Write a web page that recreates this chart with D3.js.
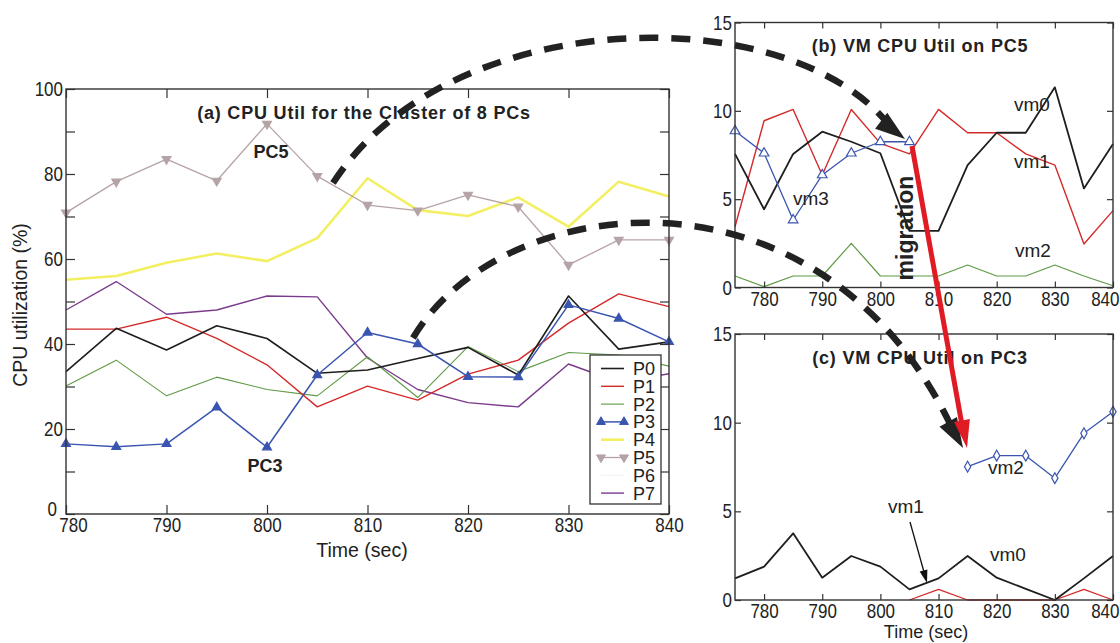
<!DOCTYPE html>
<html><head><meta charset="utf-8">
<script src="https://cdn.jsdelivr.net/npm/d3@7"></script>
<style>body{margin:0;background:#fff;} svg{display:block;font-family:Arial,"Liberation Sans",sans-serif;}</style>
</head><body><svg id="chart" width="1120" height="643"></svg>
<script>
// ---------- data ----------
const timeA = [780,785,790,795,800,805,810,815,820,825,830,835,840];
const seriesNames = ["P0","P1","P2","P3","P4","P5","P6","P7"];
const P0 = [33.5,43.7,38.6,44.3,41.3,33.1,33.9,36.6,39.2,32.7,51.3,38.8,40.5];
const P1 = [43.5,43.5,46.3,41.3,35.1,25.2,30.1,26.8,32.9,36.2,44.9,51.8,48.8];
const P2 = [30.1,36.2,27.8,32.2,29.3,27.8,37.0,27.4,39.4,33.5,38.0,37.4,34.8];
const P3 = [16.5,15.8,16.5,25.1,15.7,32.7,42.7,40.0,32.3,32.2,49.2,46.0,40.5];
const P4 = [55.1,56.0,59.1,61.3,59.5,64.9,79.0,71.5,70.1,74.5,67.6,78.2,74.7];
const P5 = [70.9,78.2,83.5,78.4,91.8,79.5,72.7,71.4,75.1,72.3,58.6,64.5,64.5];
const P6 = [0,0,0,0,0,0,0,0,0,0,0,0,0];
const P7 = [48.0,54.7,47.0,48.0,51.3,51.1,36.7,29.3,26.2,25.2,35.3,31.0,33.0];
const ticksAx = [780,790,800,810,820,830,840];
const ticksAy = [0,10,20,30,40,50,60,70,80,90,100];

const timeB = [775,780,785,790,795,800,805,810,815,820,825,830,835,840];
const bVm0 = [7.56,4.43,7.56,8.82,8.25,7.6,3.2,3.2,6.93,8.76,8.76,11.33,5.61,8.12];
const bVm1 = [3.44,9.44,10.08,6.37,10.08,8.16,7.56,10.08,8.76,8.76,7.56,6.93,2.46,4.35];
const bVm2 = [0.65,0.05,0.65,0.65,2.5,0.65,0.65,0.65,1.27,0.65,0.65,1.27,0.65,0.1];
const timeBvm3 = [775,780,785,790,795,800,805];
const bVm3 = [8.86,7.6,3.82,6.37,7.6,8.25,8.25];

const timeC = [775,780,785,790,795,800,805,810,815,820,825,830,835,840];
const cVm0 = [1.22,1.88,3.76,1.26,2.48,1.88,0.6,1.22,2.48,1.26,0.63,0,1.22,2.48];
const timeCvm1 = [805,810,815,820,825,830,835,840];
const cVm1 = [0,0.6,0,0,0,0,0.6,0];
const timeCvm2 = [815,820,825,830,835,840];
const cVm2 = [7.52,8.14,8.14,6.87,9.4,10.62];
const ticksBx = [780,790,800,810,820,830,840];
const ticksBy = [0,5,10,15];

// ---------- setup ----------
const svg = d3.select("#chart");
const FRAME = "#333";
const TXT = "#222";
const SY = 1.2; // vertical stretch of tick labels

function frame(g, x0, x1, y0, y1) {
  g.append("rect").attr("x", x0).attr("y", y0).attr("width", x1 - x0).attr("height", y1 - y0)
    .attr("fill", "none").attr("stroke", FRAME).attr("stroke-width", 1.4);
}
function styleAxis(sel, orient) {
  sel.select(".domain").remove();
  sel.selectAll("line").attr("stroke", FRAME).attr("stroke-width", 1.2);
  const t = sel.selectAll("text").attr("font-size", 17).attr("fill", TXT)
    .attr("font-family", "Arial, 'Liberation Sans', sans-serif")
    .attr("transform", `scale(1,${SY})`);
  if (orient === "bottom") t.attr("y", function () { return +d3.select(this).attr("y") / SY; });
}
function drawAxes(g, x, y, xt, yt, yfmt, tick, xpad) {
  const [x0, x1] = x.range(); const [y0, y1] = y.range();
  const gb = g.append("g").attr("transform", `translate(0,${y0})`)
    .call(d3.axisBottom(x).tickValues(xt).tickSizeInner(-tick).tickSizeOuter(0).tickPadding(xpad).tickFormat(d3.format("d")))
    .call(s => styleAxis(s, "bottom"));
  g.append("g").attr("transform", `translate(0,${y1})`)
    .call(d3.axisTop(x).tickValues(xt).tickSizeInner(-tick).tickSizeOuter(0).tickFormat(""))
    .call(s => styleAxis(s, "top"));
  const gl = g.append("g").attr("transform", `translate(${x0},0)`)
    .call(d3.axisLeft(y).tickValues(yt).tickSizeInner(-tick).tickSizeOuter(0).tickPadding(3).tickFormat(yfmt))
    .call(s => styleAxis(s, "left"));
  g.append("g").attr("transform", `translate(${x1},0)`)
    .call(d3.axisRight(y).tickValues(yt).tickSizeInner(-tick).tickSizeOuter(0).tickFormat(""))
    .call(s => styleAxis(s, "right"));
  return {gb, gl};
}
function line(g, x, y, xs, ys, color, w) {
  const data = xs.map((t, i) => [t, ys[i]]);
  g.append("path").datum(data)
    .attr("d", d3.line().x(d => x(d[0])).y(d => y(d[1])))
    .attr("fill", "none").attr("stroke", color).attr("stroke-width", w).attr("stroke-linejoin", "round");
  return data;
}
function markers(g, x, y, data, type, size, fill, stroke, rot) {
  g.selectAll(null).data(data).enter().append("path")
    .attr("d", d3.symbol(type, size)())
    .attr("transform", d => `translate(${x(d[0])},${y(d[1])}) rotate(${rot || 0})`)
    .attr("fill", fill).attr("stroke", stroke).attr("stroke-width", 1.2);
}
function text(g, x, y, s, o = {}) {
  const t = g.append("text").attr("x", x).attr("y", y).text(s)
    .attr("font-size", o.fs || 18).attr("fill", o.fill || TXT)
    .attr("font-weight", o.fw || "normal").attr("text-anchor", o.anchor || "start");
  if (o.ls) t.attr("letter-spacing", o.ls);
  if (o.rot) t.attr("transform", `rotate(${o.rot},${x},${y})`);
  return t;
}

// ---------- chart (a) ----------
const gA = svg.append("g");
const xA = d3.scaleLinear().domain([780, 840]).range([66, 669]);
const yA = d3.scaleLinear().domain([0, 100]).range([514, 89]);
const colors = {P0:"#1e1e1e", P1:"#d42a2a", P2:"#5f9a45", P3:"#3a55b0", P4:"#f3ef62", P5:"#b5a3a6", P6:"#f6f3f8", P7:"#7b3b8c"};
const widths = {P0:1.6, P1:1.4, P2:1.1, P3:1.5, P4:2.6, P5:1.3, P6:1.2, P7:1.4};
const seriesA = {P0, P1, P2, P3, P4, P5, P6, P7};
["P6","P4","P5","P7","P2","P1","P0","P3"].forEach(n => {
  const d = line(gA, xA, yA, timeA, seriesA[n], colors[n], widths[n]);
  if (n === "P3") markers(gA, xA, yA, d, d3.symbolTriangle, 34, colors.P3, colors.P3, 0);
  if (n === "P5") markers(gA, xA, yA, d, d3.symbolTriangle, 34, colors.P5, colors.P5, 180);
});
const axA = drawAxes(gA, xA, yA, ticksAx, ticksAy, d => (d % 20 === 0 ? d : ""), 9, 4);
axA.gl.selectAll(".tick").filter(d => d === 0).select("text").attr("y", -4).attr("x", -9);
axA.gb.selectAll(".tick").filter(d => d === 780).select("text").attr("x", 7);
frame(gA, 66, 669, 89, 514);
text(gA, 364, 119, "(a) CPU Util for the Cluster of 8 PCs", {fs:18, fw:"bold", anchor:"middle", ls:0.8});
text(gA, 362, 557, "Time (sec)", {fs:19.5, anchor:"middle"});
text(gA, 27, 305, "CPU utilization (%)", {fs:19.5, anchor:"middle", rot:-90});
text(gA, 271, 158, "PC5", {fs:18, fw:"bold", anchor:"middle"});
text(gA, 265, 472, "PC3", {fs:18, fw:"bold", anchor:"middle"});

// legend
const lg = gA.append("g");
lg.append("rect").attr("x", 590).attr("y", 355).attr("width", 71).attr("height", 149)
  .attr("fill", "#fff").attr("stroke", FRAME).attr("stroke-width", 1.3);
seriesNames.forEach((n, i) => {
  const yy = 368.5 + i * 17.8;
  lg.append("line").attr("x1", 601).attr("x2", 624).attr("y1", yy).attr("y2", yy)
    .attr("stroke", colors[n]).attr("stroke-width", widths[n]);
  if (n === "P3" || n === "P5") {
    [601, 624].forEach(xx => lg.append("path").attr("d", d3.symbol(d3.symbolTriangle, 34)())
      .attr("transform", `translate(${xx},${yy}) rotate(${n === "P5" ? 180 : 0})`)
      .attr("fill", colors[n]).attr("stroke", colors[n]));
  }
  text(lg, 633, yy + 6.5, n, {fs:18});
});

// ---------- chart (b) ----------
const gB = svg.append("g");
const xB = d3.scaleLinear().domain([775, 840]).range([735, 1113]);
const yB = d3.scaleLinear().domain([0, 15]).range([287.5, 22.5]);
line(gB, xB, yB, timeB, bVm2, "#5f9a45", 1.2);
line(gB, xB, yB, timeB, bVm1, "#d42a2a", 1.4);
line(gB, xB, yB, timeB, bVm0, "#1e1e1e", 1.8);
const d3b = line(gB, xB, yB, timeBvm3, bVm3, "#3a55b0", 1.3);
markers(gB, xB, yB, d3b, d3.symbolTriangle, 40, "#fff", "#3a55b0", 0);
const axB = drawAxes(gB, xB, yB, ticksBx, ticksBy, d3.format("d"), 6, 4);
axB.gb.selectAll(".tick").filter(d => d === 840).select("text").attr("text-anchor", "end").attr("x", 6);
frame(gB, 735, 1113, 22.5, 287.5);
text(gB, 920, 52, "(b) VM CPU Util on PC5", {fs:18, fw:"bold", anchor:"middle", ls:0.8});
text(gB, 1014, 111, "vm0", {fs:19});
text(gB, 1014, 168, "vm1", {fs:19});
text(gB, 1015, 257, "vm2", {fs:19});
text(gB, 793, 205, "vm3", {fs:19});

// ---------- chart (c) ----------
const gC = svg.append("g");
const xC = d3.scaleLinear().domain([775, 840]).range([735, 1113]);
const yC = d3.scaleLinear().domain([0, 15]).range([600, 334]);
line(gC, xC, yC, timeCvm1, cVm1, "#d42a2a", 1.3);
line(gC, xC, yC, timeC, cVm0, "#1e1e1e", 1.8);
const d3c = line(gC, xC, yC, timeCvm2, cVm2, "#3a55b0", 1.3);
markers(gC, xC, yC, d3c, d3.symbolDiamond, 34, "#fff", "#3a55b0", 0);
const axC = drawAxes(gC, xC, yC, ticksBx, ticksBy, d3.format("d"), 6, 4);
axC.gb.selectAll(".tick").filter(d => d === 840).select("text").attr("text-anchor", "end").attr("x", 6);
frame(gC, 735, 1113, 334, 600);
text(gC, 920, 364, "(c) VM CPU Util on PC3", {fs:18, fw:"bold", anchor:"middle", ls:0.8});
text(gC, 988, 474, "vm2", {fs:19});
text(gC, 888, 513, "vm1", {fs:19});
text(gC, 990, 561, "vm0", {fs:19});
text(gC, 926, 638, "Time (sec)", {fs:18, anchor:"middle"});

// ---------- annotations ----------
const ann = svg.append("g");
function head(tip, from, L, W, color) {
  const dx = tip[0] - from[0], dy = tip[1] - from[1], len = Math.hypot(dx, dy);
  const ux = dx / len, uy = dy / len, nx = -uy, ny = ux;
  const bx = tip[0] - ux * L, by = tip[1] - uy * L;
  ann.append("path").attr("d", `M${tip[0]},${tip[1]} L${bx + nx * W / 2},${by + ny * W / 2} L${bx - nx * W / 2},${by - ny * W / 2} Z`)
    .attr("fill", color);
  return [bx, by];
}
const p1 = d3.path(); p1.moveTo(333, 183); p1.bezierCurveTo(450, 2, 795, -3, 893, 130);
ann.append("path").attr("d", p1.toString()).attr("fill", "none").attr("stroke", "#222")
  .attr("stroke-width", 6.5).attr("stroke-dasharray", "19,13");
head([905, 139], [875, 116], 30, 20, "#222");
const p2 = d3.path(); p2.moveTo(413, 338); p2.bezierCurveTo(500, 190, 820, 150, 952, 428);
ann.append("path").attr("d", p2.toString()).attr("fill", "none").attr("stroke", "#222")
  .attr("stroke-width", 6.5).attr("stroke-dasharray", "19,13");
head([963, 448], [946, 418], 30, 20, "#222");
ann.append("line").attr("x1", 912).attr("y1", 146).attr("x2", 962).attr("y2", 425)
  .attr("stroke", "#e01b24").attr("stroke-width", 5);
head([967, 448], [912, 146], 28, 16, "#e01b24");
text(ann, 913, 228, "migration", {fs:23, fw:"bold", anchor:"middle", rot:-90});
ann.append("line").attr("x1", 910).attr("y1", 522).attr("x2", 924).attr("y2", 572)
  .attr("stroke", "#111").attr("stroke-width", 1.3);
head([927, 583], [910, 522], 13, 8, "#111");
</script></body></html>
